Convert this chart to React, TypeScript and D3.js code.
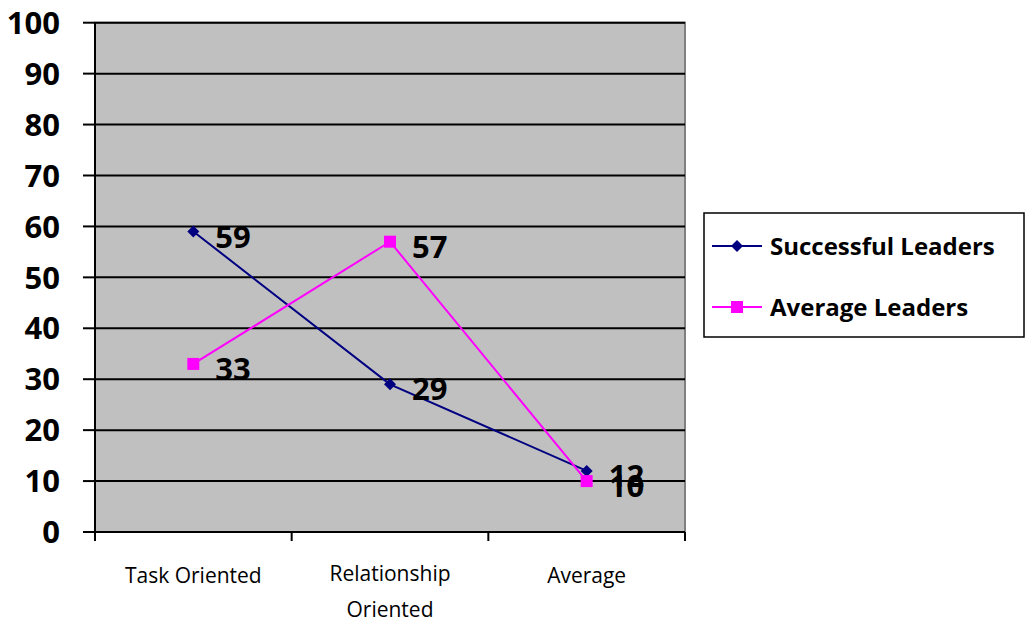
import * as d3 from "d3";

const categories = ["Task Oriented", "Relationship Oriented", "Average"];
const categoryLines = [["Task Oriented"], ["Relationship", "Oriented"], ["Average"]];
const successful = [59, 29, 12];
const average = [33, 57, 10];
const yTicks = [0, 10, 20, 30, 40, 50, 60, 70, 80, 90, 100];

const W = 1026;
const H = 622;
const FONT = "'Open Sans', 'Noto Sans', sans-serif";
const NAVY = "#000080";
const PINK = "#FF00FF";

export default function App() {
  const x = d3.scaleBand<string>().domain(categories).range([95, 685]).padding(0);
  const y = d3.scaleLinear().domain([0, 100]).range([532, 22.7]);
  const cx = (c: string) => (x(c) ?? 0) + x.bandwidth() / 2;

  const line = d3
    .line<number>()
    .x((_, i) => cx(categories[i]))
    .y((d) => y(d));

  // diamond = square rotated by 45°
  const diamond = d3.symbol(d3.symbolSquare, 72)()!;
  const [x0, x1] = x.range();
  const boundaries = [...categories.map((c) => x(c) ?? 0), x1];

  const series = [
    { name: "Successful Leaders", values: successful, color: NAVY, marker: "diamond" },
    { name: "Average Leaders", values: average, color: PINK, marker: "square" },
  ];

  const marker = (m: string, color: string, px: number, py: number, key: string) =>
    m === "diamond" ? (
      <path key={key} d={diamond} transform={`translate(${px},${py}) rotate(45)`} fill={color} />
    ) : (
      <rect key={key} x={px - 6} y={py - 6} width={12} height={12} fill={color} />
    );

  return (
    <div style={{ position: "absolute", left: 0, top: 0 }}>
      <svg width={W} height={H} style={{ display: "block", background: "#fff" }}>
        {/* plot background */}
        <rect x={x0} y={y(100)} width={x1 - x0} height={y(0) - y(100)} fill="#C0C0C0" stroke="#808080" strokeWidth={2} />

        {/* gridlines + y ticks */}
        {yTicks.map((t) => (
          <g key={t}>
            {t > 0 && <line x1={x0} x2={x1} y1={y(t)} y2={y(t)} stroke="#000" strokeWidth={2} />}
            <line x1={83} x2={x0} y1={y(t)} y2={y(t)} stroke="#000" strokeWidth={2} />
            <text
              x={60}
              y={y(t)}
              dy="0.36em"
              textAnchor="end"
              fontFamily={FONT}
              fontWeight="bold"
              fontSize={31}
              fill="#000"
            >
              {t}
            </text>
          </g>
        ))}

        {/* axes */}
        <line x1={x0} x2={x0} y1={y(100)} y2={y(0)} stroke="#000" strokeWidth={2} />
        <line x1={x0} x2={x1} y1={y(0)} y2={y(0)} stroke="#000" strokeWidth={2} />
        {boundaries.map((b, i) => (
          <line key={i} x1={b} x2={b} y1={y(0)} y2={y(0) + 9} stroke="#000" strokeWidth={2} />
        ))}

        {/* category labels */}
        {categories.map((c, i) => (
          <text key={c} x={cx(c)} textAnchor="middle" fontFamily={FONT} fontSize={21} fill="#000">
            {categoryLines[i].map((l, j) => (
              <tspan key={j} x={cx(c)} y={categoryLines[i].length > 1 ? 581 + j * 36 : 583}>
                {l}
              </tspan>
            ))}
          </text>
        ))}

        {/* series */}
        {series.map((s) => (
          <g key={s.name}>
            <path d={line(s.values) ?? ""} fill="none" stroke={s.color} strokeWidth={2} />
            {s.values.map((v, i) => marker(s.marker, s.color, cx(categories[i]), y(v), `${s.name}-${i}`))}
            {s.values.map((v, i) => (
              <text
                key={`l-${i}`}
                x={cx(categories[i]) + 22}
                y={y(v) + 5}
                dy="0.36em"
                fontFamily={FONT}
                fontWeight="bold"
                fontSize={31}
                fill="#000"
              >
                {v}
              </text>
            ))}
          </g>
        ))}

        {/* legend */}
        <rect x={704} y={213} width={320} height={124} fill="#fff" stroke="#000" strokeWidth={1.5} />
        {series.map((s, i) => {
          const ly = 246 + i * 61;
          return (
            <g key={s.name}>
              <line x1={712} x2={762} y1={ly} y2={ly} stroke={s.color} strokeWidth={2} />
              {marker(s.marker, s.color, 737, ly, `lg-${i}`)}
              <text x={770} y={ly} dy="0.36em" fontFamily={FONT} fontWeight="bold" fontSize={24} fill="#000">
                {s.name}
              </text>
            </g>
          );
        })}
      </svg>
    </div>
  );
}
